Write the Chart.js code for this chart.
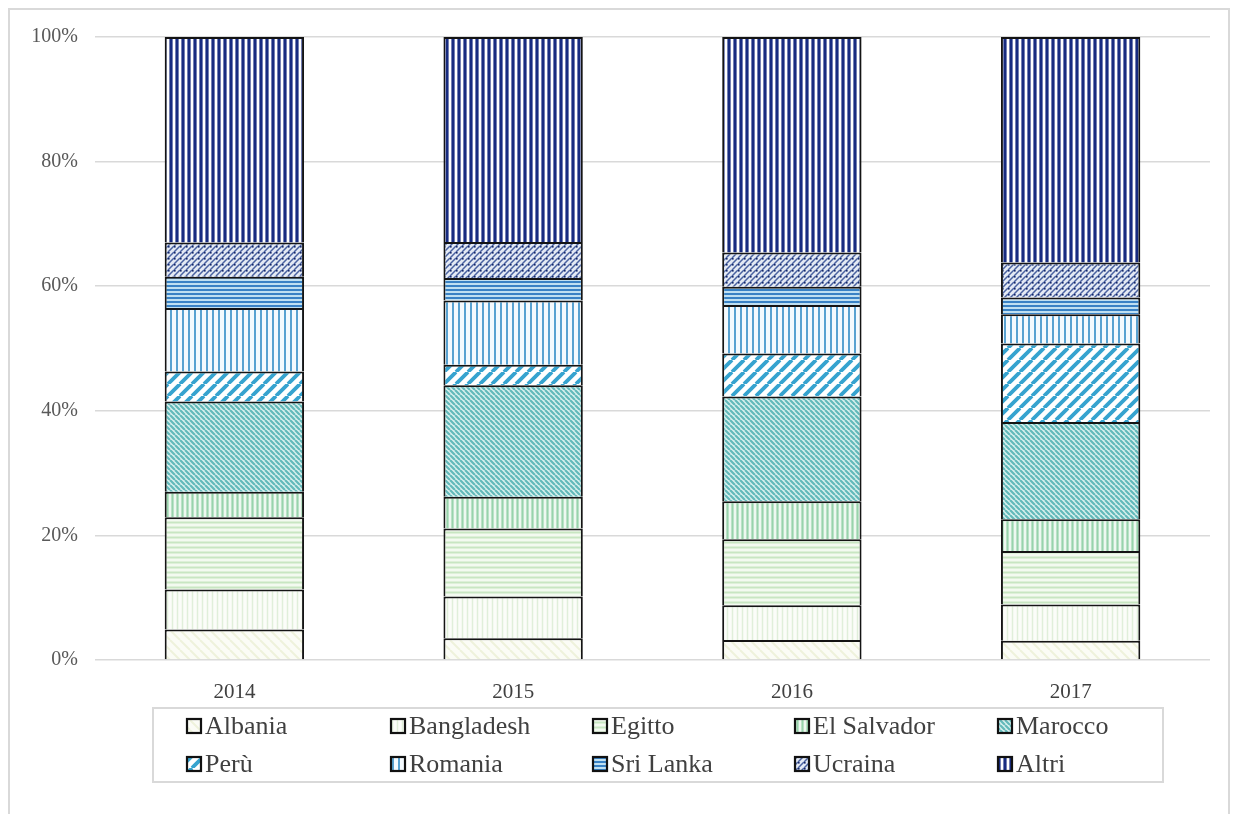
<!DOCTYPE html>
<html lang="it">
<head>
<meta charset="UTF-8">
<title>Quote per paese</title>
<script src="https://cdn.jsdelivr.net/npm/chart.js"></script>
<style>
    body { margin: 0; background: #fff; }
    .frame {
        position: absolute; left: 8px; top: 8px;
        width: 1218px; height: 820px;
        border: 2px solid #d9d9d9;
    }
    #grafico { position: absolute; left: 0; top: 0; }
</style>
</head>
<body>
<div class="frame"></div>
<canvas id="grafico" width="1236" height="814"></canvas>

<script>
    // anni
    const anni = ['2014', '2015', '2016', '2017'];

    // quote percentuali
    const albania    = [4.9, 3.5, 3.2, 3.1];
    const bangladesh = [6.4, 6.7, 5.6, 5.8];
    const egitto     = [11.6, 10.9, 10.6, 8.6];
    const elSalvador = [4.1, 5.1, 6.1, 5.1];
    const marocco    = [14.5, 17.9, 16.8, 15.6];
    const peru       = [4.8, 3.3, 6.9, 12.6];
    const romania    = [10.2, 10.3, 7.8, 4.7];
    const sriLanka   = [5.0, 3.6, 2.9, 2.7];
    const ucraina    = [5.5, 5.8, 5.5, 5.6];
    const altri      = [33.0, 32.9, 34.6, 36.2];

    const tickPercentuali = [0, 20, 40, 60, 80, 100];

    // trame dei riempimenti
    function trama(tipo, colore, sfondo, passo, spessore, puntini) {
        const c = document.createElement('canvas');
        c.width = passo; c.height = passo;
        const g = c.getContext('2d');
        g.fillStyle = sfondo;
        g.fillRect(0, 0, passo, passo);
        g.strokeStyle = colore;
        g.lineWidth = spessore;
        g.beginPath();
        if (tipo === 'v') {
            g.moveTo(passo / 2, 0); g.lineTo(passo / 2, passo);
        } else if (tipo === 'h') {
            g.moveTo(0, passo / 2); g.lineTo(passo, passo / 2);
        } else if (tipo === '/') {
            for (let k = -1; k <= 1; k++) {
                g.moveTo(k * passo, passo); g.lineTo(k * passo + passo, 0);
            }
        } else if (tipo === '\\') {
            for (let k = -1; k <= 1; k++) {
                g.moveTo(k * passo, 0); g.lineTo(k * passo + passo, passo);
            }
        }
        g.stroke();
        if (puntini) {
            g.fillStyle = puntini;
            g.fillRect(0, 0, 1.6, 1.6);
        }
        return g.createPattern(c, 'repeat');
    }

    const serie = [
        { nome: 'Albania',     dati: albania,    trama: trama('\\', '#eef2dc', '#fbfcf6', 10, 2) },
        { nome: 'Bangladesh',  dati: bangladesh, trama: trama('v', '#e0efda', '#fbfdf9', 5, 1.5) },
        { nome: 'Egitto',      dati: egitto,     trama: trama('h', '#c8e6c2', '#f3faf0', 5, 2) },
        { nome: 'El Salvador', dati: elSalvador, trama: trama('v', '#98d3ab', '#eef8f0', 5, 2.2) },
        { nome: 'Marocco',     dati: marocco,    trama: trama('\\', '#62b9ba', '#d8f0ee', 5, 2.2) },
        { nome: 'Perù',        dati: peru,       trama: trama('/', '#36a3cf', '#ffffff', 12, 3.8) },
        { nome: 'Romania',     dati: romania,    trama: trama('v', '#4898cc', '#f4fafe', 6, 1.8) },
        { nome: 'Sri Lanka',   dati: sriLanka,   trama: trama('h', '#2a78c0', '#bfe0f2', 4, 1.8) },
        { nome: 'Ucraina',     dati: ucraina,    trama: trama('/', '#4a62a0', '#e4eaf4', 6, 1.5, '#15286a') },
        { nome: 'Altri',       dati: altri,      trama: trama('v', '#172b80', '#ffffff', 6, 3.2) }
    ];

    // legenda a griglia sotto il grafico
    const legendaGriglia = {
        id: 'legendaGriglia',
        afterDraw(chart) {
            const ctx = chart.ctx;
            ctx.save();
            ctx.strokeStyle = '#d9d9d9';
            ctx.lineWidth = 2;
            ctx.strokeRect(153, 708, 1010, 74);
            const colonne = [187, 391, 593, 795, 998];
            const righe = [726, 764];
            ctx.font = '26px "Liberation Serif", "Times New Roman", serif';
            ctx.textBaseline = 'middle';
            chart.data.datasets.forEach(function (ds, i) {
                const x = colonne[i % 5];
                const y = righe[Math.floor(i / 5)];
                ctx.fillStyle = ds.backgroundColor;
                ctx.fillRect(x, y - 7, 14, 14);
                ctx.strokeStyle = '#111';
                ctx.lineWidth = 2.2;
                ctx.strokeRect(x, y - 7, 14, 14);
                ctx.fillStyle = '#404040';
                ctx.fillText(ds.label, x + 18, y + 1);
            });
            ctx.restore();
        }
    };

    const ctx = document.getElementById('grafico').getContext('2d');
    new Chart(ctx, {
        type: 'bar',
        data: {
            labels: anni,
            datasets: serie.map(function (s) {
                return {
                    label: s.nome,
                    data: s.dati,
                    backgroundColor: s.trama,
                    borderColor: '#141414',
                    borderWidth: 2,
                    barPercentage: 0.5,
                    categoryPercentage: 1.0
                };
            })
        },
        options: {
            responsive: false,
            animation: false,
            devicePixelRatio: 1,
            layout: { padding: { top: 37, right: 26, left: 0, bottom: 0 } },
            plugins: {
                legend: { display: false },
                tooltip: { enabled: false }
            },
            scales: {
                x: {
                    stacked: true,
                    grid: { display: false },
                    border: { display: false },
                    ticks: {
                        color: '#404040',
                        padding: 12,
                        font: { family: '"Liberation Serif", serif', size: 21 }
                    },
                    afterFit: function (scale) { scale.height = 154; }
                },
                y: {
                    stacked: true,
                    min: 0,
                    max: 100,
                    afterBuildTicks: function (scale) {
                        scale.ticks = tickPercentuali.map(function (v) { return { value: v }; });
                    },
                    grid: { color: '#d9d9d9', lineWidth: 1.5, drawTicks: false },
                    border: { display: false },
                    ticks: {
                        color: '#595959',
                        padding: 17,
                        font: { family: '"Liberation Serif", serif', size: 20 },
                        callback: function (v) { return v + '%'; }
                    },
                    afterFit: function (scale) { scale.width = 95; }
                }
            }
        },
        plugins: [legendaGriglia]
    });
</script>
</body>
</html>
